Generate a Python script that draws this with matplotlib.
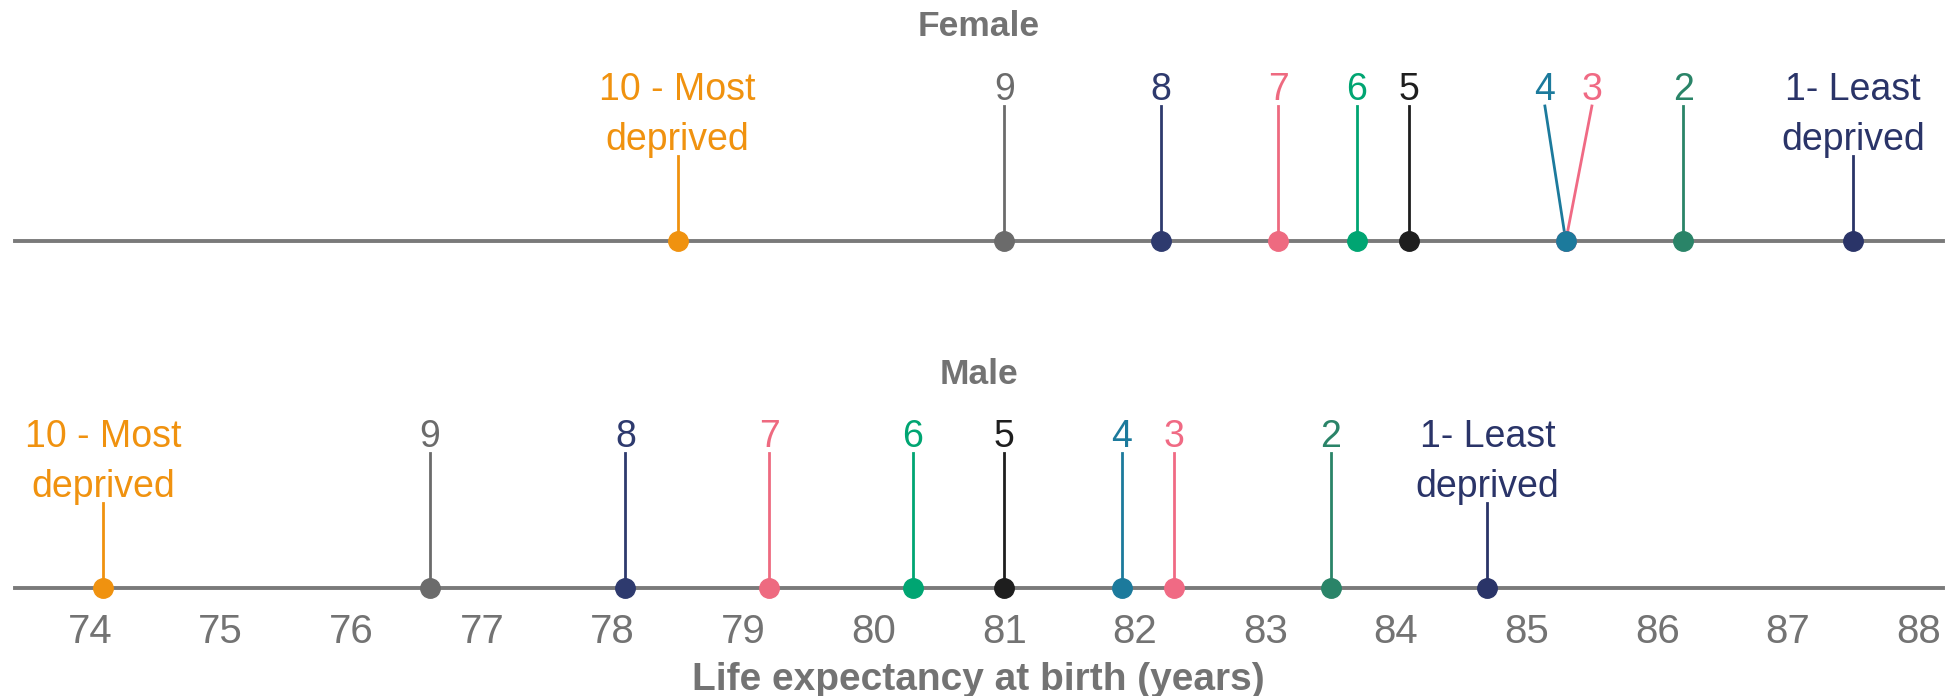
"""Life expectancy at birth by deprivation decile, female and male."""

import matplotlib.pyplot as plt

plt.rcParams["font.family"] = ["Liberation Sans", "DejaVu Sans"]

# deciles, most deprived first
deciles = ["10 - Most\ndeprived", "9", "8", "7", "6", "5", "4", "3", "2", "1- Least\ndeprived"]
decile_colors = [
    "#F0920F", "#6B6B6B", "#2E3A6E", "#EE6A80", "#00A572",
    "#1E1E1E", "#1C7A9C", "#F06A84", "#2A8468", "#2A3468",
]

female_le = [78.5, 81.0, 82.2, 83.1, 83.7, 84.1, 85.3, 85.3, 86.2, 87.5]
male_le = [74.1, 76.6, 78.1, 79.2, 80.3, 81.0, 81.9, 82.3, 83.5, 84.7]

# small sideways nudge for labels that would overlap (female 4 and 3)
female_nudge = [0, 0, 0, 0, 0, 0, -0.16, 0.2, 0, 0]
male_nudge = [0] * 10

x_ticks = list(range(74, 89))

GREY = "#737373"
PX = 347.0  # pixels between the two baselines, used as one y unit


def draw_row(ax, base, values, nudges, title):
    ax.axhline(base, xmin=0.0077, xmax=0.993, color="#7A7A7A", lw=2.8, zorder=1, clip_on=False)
    ax.text(0.5, base + 214 / PX, title, transform=ax.get_yaxis_transform(),
            ha="center", va="center", fontsize=25.5, fontweight="bold", color=GREY)
    for i, (label, value, nudge, color) in enumerate(zip(deciles, values, nudges, decile_colors)):
        lines = label.split("\n")
        y_first = base + 155 / PX
        dy = 50 / PX
        for j, line in enumerate(lines):
            ax.text(value + nudge, y_first - j * dy, line, ha="center", va="center_baseline",
                    fontsize=27, color=color)
        stem_top = y_first - (len(lines) - 1) * dy - 20 / PX
        # more deprived deciles sit on top where dots overlap
        z = 3 - i * 0.01
        ax.plot([value + nudge, value], [stem_top, base], color=color, lw=2.0,
                zorder=z - 1, clip_on=False)
        ax.plot(value, base, "o", ms=14, color=color, zorder=z, clip_on=False)


fig = plt.figure(figsize=(19.57, 6.96), dpi=100)
# axes bottom sits on the male baseline so the tick labels hang below it
ax = fig.add_axes([0, 108 / 696, 1, 588 / 696])
ax.set_xlim(74 - 90 / 130.6, 74 + (1957 - 90) / 130.6)
ax.set_ylim(0, 588 / PX)

draw_row(ax, 1.0, female_le, female_nudge, "Female")
draw_row(ax, 0.0, male_le, male_nudge, "Male")

ax.set_xticks(x_ticks)
ax.set_xticklabels([str(t) for t in x_ticks])
ax.tick_params(axis="x", length=0, pad=18, labelsize=29, labelcolor=GREY)
ax.set_yticks([])
for spine in ax.spines.values():
    spine.set_visible(False)
ax.set_xlabel("Life expectancy at birth (years)", fontsize=28, fontweight="bold",
              color=GREY, labelpad=8)

fig.savefig("out.png", dpi=100)
